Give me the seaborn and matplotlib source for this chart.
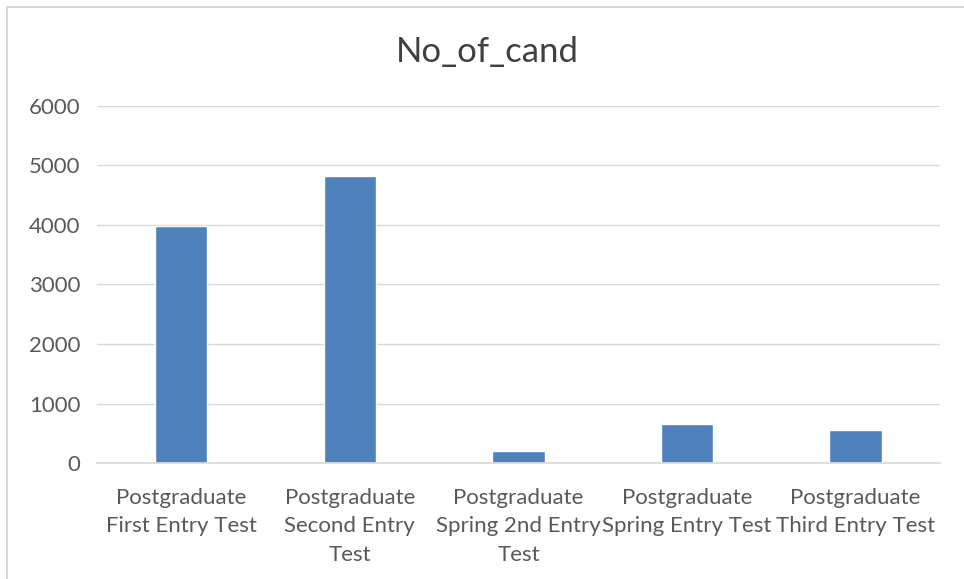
import matplotlib
matplotlib.use("Agg")
import matplotlib.pyplot as plt
import seaborn as sns
import pandas as pd
from matplotlib.patches import Rectangle

tests = ["Postgraduate\nFirst Entry Test",
         "Postgraduate\nSecond Entry\nTest",
         "Postgraduate\nSpring 2nd Entry\nTest",
         "Postgraduate\nSpring Entry Test",
         "Postgraduate\nThird Entry Test"]
no_of_cand = [3985, 4820, 195, 650, 550]
yticks = [0, 1000, 2000, 3000, 4000, 5000, 6000]

sns.set_theme(style="white")
plt.rcParams['font.family'] = ['Lato', 'DejaVu Sans']

df = pd.DataFrame({"test": tests, "count": no_of_cand})

fig = plt.figure(figsize=(9.64, 5.79), dpi=100)
ax = fig.add_axes([0.1006, 0.2003, 0.8744, 0.6167])
sns.barplot(data=df, x="test", y="count", color="#4F81BD", width=0.31,
            saturation=1, ax=ax)

ax.set_ylim(0, 6000)
ax.set_yticks(yticks)
ax.set_yticklabels([str(t) for t in yticks])
ax.yaxis.grid(True, color="#D9D9D9", lw=1)
ax.set_axisbelow(True)
ax.set_xlabel("")
ax.set_ylabel("")
for s in ["top", "right", "left"]:
    ax.spines[s].set_visible(False)
ax.spines["bottom"].set_color("#D9D9D9")
ax.tick_params(axis="both", length=0, colors="#595959", labelsize=16)
ax.tick_params(axis="x", pad=18)
ax.tick_params(axis="y", pad=12)
for lab in ax.get_xticklabels():
    lab.set_linespacing(1.52)
fig.text(0.506, 0.910, "No_of_cand", ha="center", va="center",
         fontsize=25, color="#404040")

# chart area border
fig.patches.append(Rectangle((0.007, -0.05), 1.2, 1.038, transform=fig.transFigure,
                             fill=False, edgecolor="#D9D9D9", lw=1.5))

fig.savefig("out.png", dpi=100)
